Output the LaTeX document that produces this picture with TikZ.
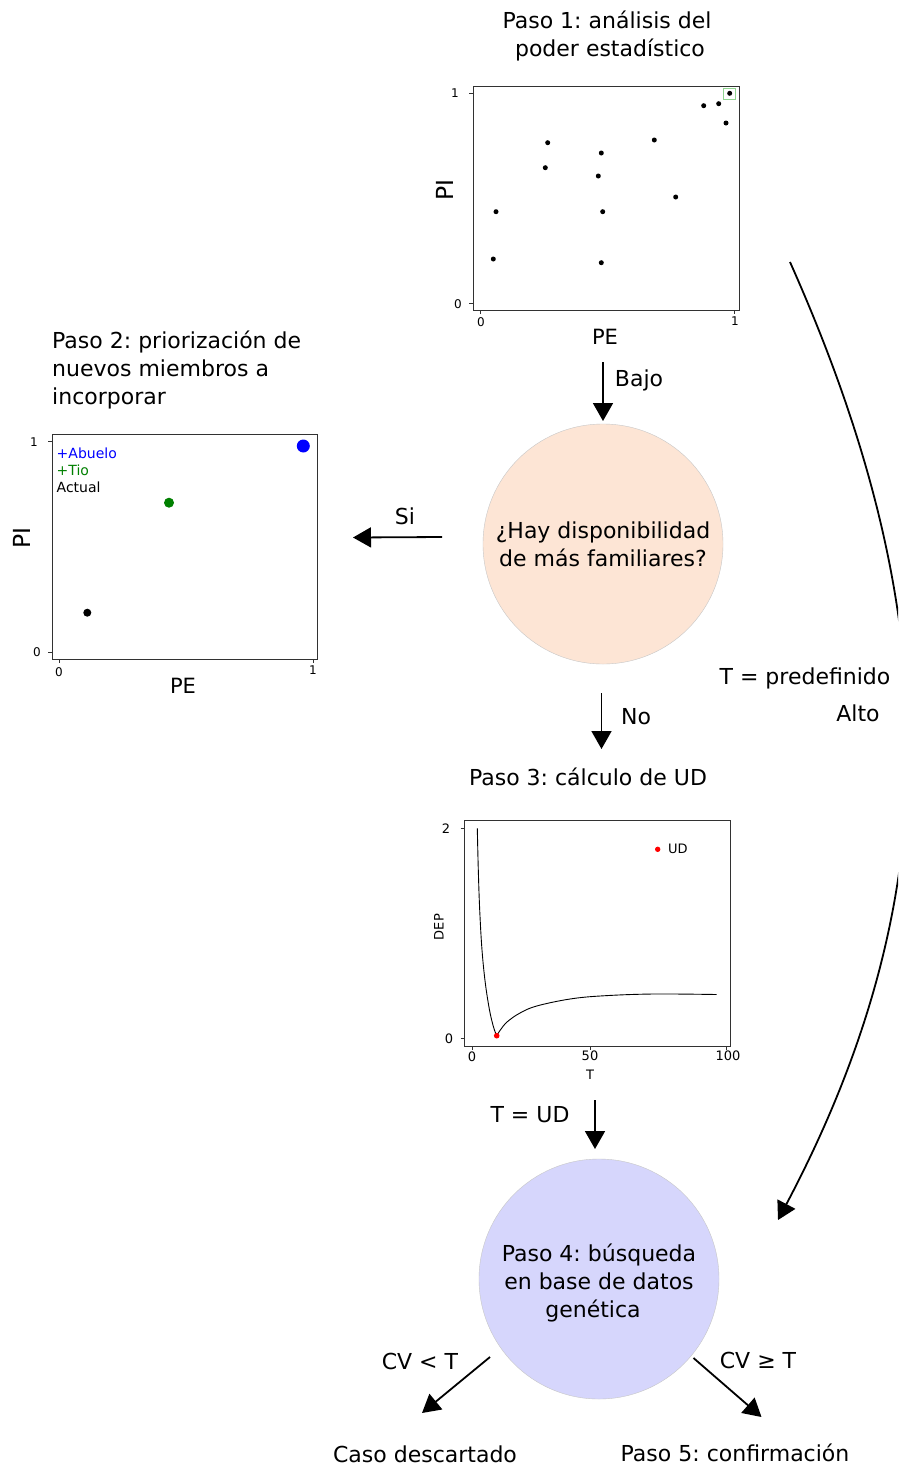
\documentclass[tikz,border=0pt]{standalone}
\usepackage{fontspec}
\setmainfont{DejaVu Sans}
\usetikzlibrary{arrows.meta}
\definecolor{peach}{RGB}{253,229,213}
\definecolor{lav}{RGB}{214,214,252}
\definecolor{axcol}{RGB}{50,50,50}
\definecolor{dgreen}{RGB}{0,128,0}
\frenchspacing
\begin{document}
\begin{tikzpicture}[x=1pt,y=-1pt,
  big/.style={font=\fontsize{22}{28}\selectfont},
  axlab/.style={font=\fontsize{21}{24}\selectfont},
  pilab/.style={font=\fontsize{23.5}{26}\selectfont, rotate=90},
  tick/.style={font=\fontsize{12}{14}\selectfont},
  tickb/.style={font=\fontsize{13}{15}\selectfont},
  leg/.style={font=\fontsize{14}{16.5}\selectfont, anchor=west, inner sep=0},
  arr/.style={line width=1.8pt, -{Triangle[length=18pt,width=20pt]}},
  axframe/.style={draw=axcol, line width=1pt},
  tk/.style={draw=axcol, line width=1pt},
  bubble/.style={circle, minimum size=240pt, inner sep=0, align=center, draw=black!22, line width=0.4pt, font=\fontsize{22}{28}\selectfont}
]
\path[use as bounding box] (0,0) rectangle (898,1465);
\fill[white] (0,0) rectangle (898,1465);

% ---------- titles ----------
\node[big, align=center] (t1) at (607,36) {Paso 1: análisis del\\\hspace*{6pt}poder estadístico};
\node[big, align=left, anchor=west, inner sep=0] (t2) at (52,370) {Paso 2: priorización de\\nuevos miembros a\\incorporar};
\node[big] (t3) at (588,777) {Paso 3: cálculo de UD};
\node[big] (t5a) at (425,1454) {Caso descartado};
\node[big] (t5b) at (735,1453) {Paso 5: confirmación};
\node[big] (tpre) at (805,678) {T = predefinido};
\node[big] (talto) at (858,713) {Alto};

% ---------- plot 1 ----------
\draw[axframe] (473,86) rectangle (739,310);
\draw[tk] (469,93)--(473,93) (469,303.5)--(473,303.5) (480.5,310)--(480.5,314) (734.5,310)--(734.5,314);
\node[tick] (p1y1) at (455,93) {1};
\node[tick] (p1y0) at (458,304) {0};
\node[tick] (p1x0) at (481,322) {0};
\node[tick] (p1x1) at (735,321) {1};
\node[pilab] (p1pi) at (445,190) {PI};
\node[axlab] (p1pe) at (605,337) {PE};
\draw[green!45!gray!60, line width=0.5pt] (723.5,88.5) rectangle (735,99);
\foreach \px/\py in {729.7/93.3, 703.7/105.7, 718.7/103.7, 726/123, 547.7/142.7, 654.3/140,
  601.3/153, 545.3/167.7, 598.3/176, 675.7/197, 496/211.7, 602.7/211.7, 493.3/259, 601.3/262.7}
  \fill[black] (\px,\py) circle (2.5);

% ---------- plot 2 ----------
\draw[axframe] (52,434) rectangle (317,659);
\draw[tk] (48,441)--(52,441) (48,652)--(52,652) (59,659)--(59,663) (313.3,659)--(313.3,663);
\node[tick] (p2y1) at (34,442) {1};
\node[tick] (p2y0) at (37,652) {0};
\node[tick] (p2x0) at (59,672) {0};
\node[tick] (p2x1) at (313,670) {1};
\node[pilab] (p2pi) at (22,538) {PI};
\node[axlab] (p2pe) at (183,686) {PE};
\node[leg, text=blue] (lab) at (56.5,453.5) {+Abuelo};
\node[leg, text=dgreen] (ltio) at (56.5,470) {+Tio};
\node[leg] (lact) at (56.5,487) {Actual};
\fill[blue] (303.3,446) circle (6.5);
\fill[dgreen] (169,502.7) circle (5);
\fill[black] (87.3,612.7) circle (4);

% ---------- plot 3 ----------
\draw[axframe] (464.5,820) rectangle (730,1046);
\draw[tk] (460.5,828.3)--(464.5,828.3) (460.5,1038.7)--(464.5,1038.7)
  (472.3,1046)--(472.3,1050) (590,1046)--(590,1050) (726.7,1046)--(726.7,1050);
\node[tickb] (p3y2) at (446,829) {2};
\node[tickb] (p3y0) at (449,1039) {0};
\node[tickb] (p3x0) at (472,1057) {0};
\node[tickb] (p3x50) at (590,1056) {50};
\node[tickb] (p3x100) at (728,1056) {100};
\node[tickb, rotate=90] (p3dep) at (439,927) {DEP};
\node[tickb] (p3t) at (590,1075) {T};
\draw[black, line width=0.9pt] plot[smooth, tension=0.6] coordinates {
  (477.3,828.3) (478.3,870) (479.7,910) (482,950) (485.3,983) (489.5,1010) (493.5,1027) (496.7,1035.7)};
\draw[black, line width=0.9pt] plot[smooth, tension=0.6] coordinates {
  (496.7,1035.7) (500,1030.5) (507,1022) (520,1013) (536.7,1006) (570,999) (603.3,995.8) (653.3,994) (716.7,994.5)};
\fill[red] (496.7,1035.7) circle (2.8);
\fill[red] (657.7,849.3) circle (2.7);
\node[tickb, anchor=west, inner sep=0] (lud) at (668,849.3) {UD};

% ---------- decision bubbles ----------
\node[bubble, fill=peach] (q) at (603,544) {¿Hay disponibilidad\\ de más familiares?};
\node[bubble, fill=lav] (s4) at (599,1279) {\rule{0pt}{26.5pt}Paso 4: búsqueda\\en base de datos\\genética\hspace*{12pt}};

% ---------- connectors ----------
\coordinate (bajoA) at (603,362);
\coordinate (bajoB) at (603,421);
\draw[arr] (bajoA) -- (bajoB);
\node[big] (lbajo) at (639,380) {Bajo};

\coordinate (siA) at (442,537);
\coordinate (siB) at (353,537.5);
\draw[arr] (siA) -- (siB);
\node[big] (lsi) at (405,516) {Si};

\coordinate (noA) at (601.5,693);
\coordinate (noB) at (601.5,749);
\draw[arr] (noA) -- (noB);
\node[big] (lno) at (636,717) {No};

\coordinate (udA) at (595,1100);
\coordinate (udB) at (595,1149);
\draw[arr] (udA) -- (udB);
\node[big] (lud2) at (530,1115) {T = UD};

\coordinate (cvlA) at (490,1357);
\coordinate (cvlB) at (422,1413);
\draw[arr] (cvlA) -- (cvlB);
\node[big] (lcvl) at (420,1361) {CV < T};

\coordinate (cvgA) at (693.5,1358);
\coordinate (cvgB) at (761.5,1417);
\draw[arr] (cvgA) -- (cvgB);
\node[big] (lcvg) at (758,1360) {CV ≥ T};

\begin{scope}
\clip (0,0) rectangle (898,1465);
\coordinate (altoA) at (790,262);
\coordinate (altoB) at (778,1220);
\draw[arr] (altoA) .. controls (943,605) and (953,889) .. (altoB);
\end{scope}
\end{tikzpicture}
\end{document}
